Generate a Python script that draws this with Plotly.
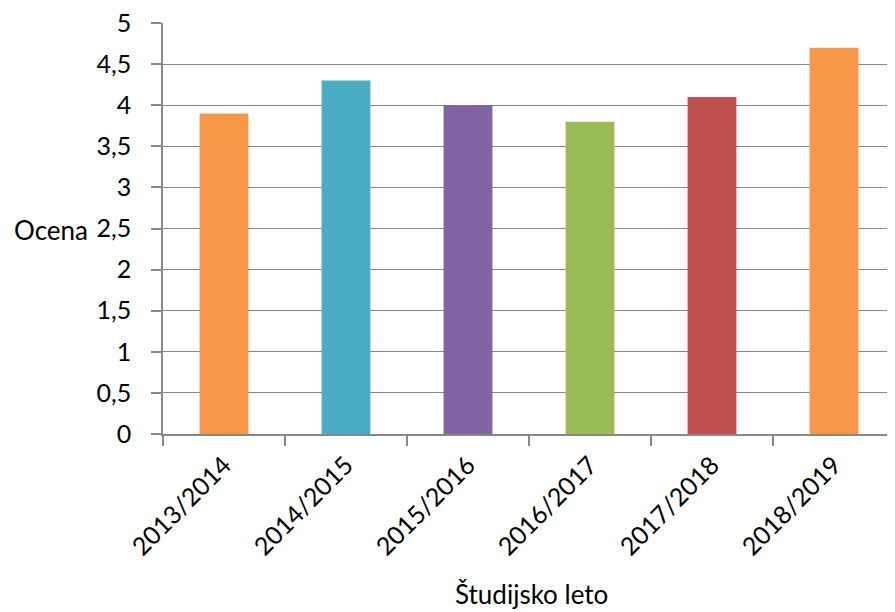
import plotly.graph_objects as go

categories = ["2013/2014", "2014/2015", "2015/2016", "2016/2017", "2017/2018", "2018/2019"]
values = [3.9, 4.3, 4.0, 3.8, 4.1, 4.7]
colors = ["#F79646", "#4BACC6", "#8064A2", "#9BBB59", "#C0504D", "#F79646"]
y_ticks = [0, 0.5, 1, 1.5, 2, 2.5, 3, 3.5, 4, 4.5, 5]
y_tick_text = ["0", "0,5", "1", "1,5", "2", "2,5", "3", "3,5", "4", "4,5", "5"]

FONT = "Lato, Carlito, Calibri, sans-serif"
GRID = "#888888"

# page body has an 8px margin, so the figure is drawn 8px smaller and shifted
fig = go.Figure(go.Bar(x=categories, y=values, marker=dict(color=colors, line=dict(width=0)), width=0.4))

fig.update_layout(
    width=887, height=604,
    margin=dict(l=155, r=0, t=15, b=178, autoexpand=False),
    plot_bgcolor="white", paper_bgcolor="white",
    font=dict(family=FONT, size=25, color="#000000"),
    showlegend=False,
    bargap=0.6,
)
fig.update_yaxes(
    range=[0, 5], tickvals=y_ticks, ticktext=y_tick_text,
    showgrid=True, gridcolor=GRID, gridwidth=1.3,
    showline=True, linecolor=GRID, linewidth=1.5,
    ticks="outside", ticklen=10, tickcolor=GRID, tickwidth=1.5,
    ticklabelstandoff=15, zeroline=False, automargin=False,
    ticklabeloverflow="allow",
    tickfont=dict(family=FONT, size=25),
)
fig.update_xaxes(
    showline=True, linecolor=GRID, linewidth=1.5,
    ticks="outside", ticklen=10, tickcolor=GRID, tickwidth=1.5,
    tickson="boundaries", tickangle=-45, automargin=False,
    ticklabeloverflow="allow", ticklabelstandoff=5,
    tickfont=dict(family=FONT, size=25),
)
fig.add_annotation(text="Ocena", xref="paper", yref="paper", x=-(163 - 12) / 732, y=(434 - 230) / 411,
                   xanchor="left", yanchor="middle", showarrow=False, font=dict(family=FONT, size=26))
fig.add_annotation(text="Študijsko leto", xref="paper", yref="paper", x=(531 - 163) / 732, y=(434 - 594) / 411,
                   xanchor="center", yanchor="middle", showarrow=False, font=dict(family=FONT, size=26))

fig.write_html("out.html")
